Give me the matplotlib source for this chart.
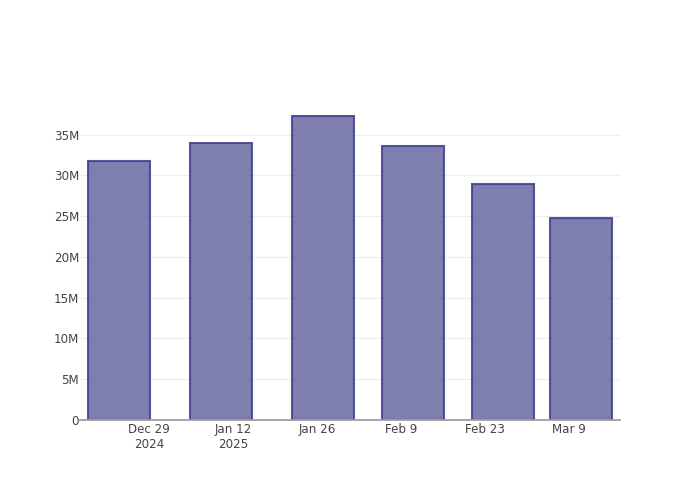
import matplotlib
matplotlib.use("Agg")
import matplotlib.pyplot as plt
import matplotlib.dates as mdates
import numpy as np
import datetime as dt

dates = ["2024-12-24", "2025-01-10", "2025-01-27", "2025-02-11", "2025-02-26", "2025-03-11"]
values = [31.8e6, 34.0e6, 37.3e6, 33.6e6, 29.0e6, 24.8e6]
xtick_dates = ["2024-12-29", "2025-01-12", "2025-01-26", "2025-02-09", "2025-02-23", "2025-03-09"]
xtick_labels = ["Dec 29\n2024", "Jan 12\n2025", "Jan 26", "Feb 9", "Feb 23", "Mar 9"]
ytick_vals = [0, 5e6, 10e6, 15e6, 20e6, 25e6, 30e6, 35e6]
ytick_labels = ["0", "5M", "10M", "15M", "20M", "25M", "30M", "35M"]

plt.rcParams['font.family'] = ['DejaVu Sans']
fig = plt.figure(figsize=(7, 5), dpi=100)
ax = fig.add_axes([80/700, 80/500, 540/700, 320/500])

x = mdates.date2num([dt.datetime.fromisoformat(d) for d in dates])
ax.bar(x, values, width=10.4, facecolor=(72/255, 72/255, 142/255, 0.7),
       edgecolor=(60/255, 60/255, 140/255, 0.85), linewidth=1.5, zorder=3)

xt = mdates.date2num([dt.datetime.fromisoformat(d) for d in xtick_dates])
ax.set_xticks(xt)
ax.set_xticklabels(xtick_labels, fontsize=8.6, color="#444444", linespacing=1.25)
ax.set_yticks(ytick_vals)
ax.set_yticklabels(ytick_labels, fontsize=8.6, color="#444444")
ax.tick_params(axis='both', length=0)
ax.tick_params(axis='x', pad=2)
ax.tick_params(axis='y', pad=0.8)

ax.set_xlim(xt[0] - 11.5, xt[-1] + 8.5)
ax.set_ylim(0, 39.25e6)

for v in ytick_vals[1:]:
    ax.axhline(v, color="#eeeeee", linewidth=0.8, zorder=1)

for s in ["top", "right", "left"]:
    ax.spines[s].set_visible(False)
ax.spines["bottom"].set_color("#a0a0a0")
ax.spines["bottom"].set_linewidth(1.3)
ax.spines["bottom"].set_zorder(4)

fig.savefig("out.png", dpi=100)
